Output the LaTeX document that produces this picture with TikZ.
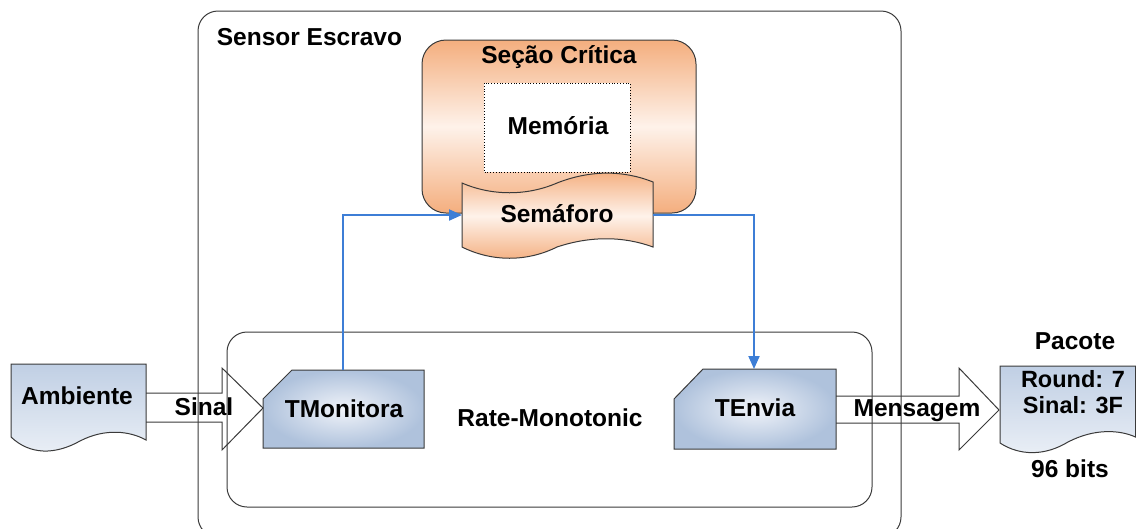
\documentclass[tikz,border=0pt]{standalone}
\usepackage{fontspec}
\setmainfont{Liberation Sans}
\usetikzlibrary{arrows.meta}
\definecolor{frame}{HTML}{3A3A3A}
\definecolor{orangeD}{HTML}{F4AE7E}
\definecolor{orangeL}{HTML}{FEF2EA}
\definecolor{blueD}{HTML}{AFC2DC}
\definecolor{blueL}{HTML}{F0F3F9}
\definecolor{docD}{HTML}{C0CFE4}
\definecolor{docL}{HTML}{EAEFF6}
\definecolor{link}{HTML}{3D7ED6}
\begin{document}
\begin{tikzpicture}[x=1pt,y=-1pt,
  lbl/.style={font=\fontsize{24.5}{20}\selectfont\bfseries, inner sep=0pt, anchor=base},
  frameline/.style={draw=frame, line width=1pt},
  orangefill/.style={top color=orangeD, bottom color=orangeD, middle color=orangeL},
  taskfill/.style={inner color=blueL, outer color=blueD},
  docfill/.style={top color=docD, bottom color=docL},
  linkline/.style={draw=link, line width=2pt, -{Triangle[length=13pt,width=11pt]}},
]
\useasboundingbox (0,0) rectangle (1136,528);

% outer box and rate-monotonic box
\draw[frameline, rounded corners=20pt] (198,11) rectangle (901,537);
\draw[frameline, rounded corners=20pt] (227,332) rectangle (872,507);

% critical section
\path[frameline, orangefill, rounded corners=24pt] (422,40) rectangle (696,213);
\draw[draw=black, line width=0.8pt, dotted, fill=white] (484,83) rectangle (630,172);

% semaphore (punched tape)
\path[frameline, orangefill] (462,183) .. controls (492,196) and (527,196) .. (557,183)
  .. controls (590,170) and (623,170) .. (653,182) -- (653,247)
  .. controls (623,236) and (590,236) .. (557,247)
  .. controls (527,262) and (492,262) .. (462,247) -- cycle;

% Ambiente document
\path[frameline, docfill] (11,364) -- (146,364) -- (146,440)
  .. controls (130,431) and (105,428) .. (80,441)
  .. controls (55,455) and (30,455) .. (11,437) -- cycle;

% Pacote document
\path[frameline, docfill] (1000,366) -- (1135.5,366) -- (1135.5,437)
  .. controls (1120,430) and (1095,428) .. (1068,442)
  .. controls (1045,456) and (1020,456) .. (1000,443) -- cycle;

% tasks
\path[frameline, taskfill] (263,399) -- (292,370) -- (424,370) -- (424,448) -- (263,448) -- cycle;
\path[frameline, taskfill] (674,399) -- (703,369) -- (836,369) -- (836,449) -- (674,449) -- cycle;

% block arrows
\draw[frameline] (146,393) -- (222,393) -- (222,368) -- (263,408) -- (222,450) -- (222,422) -- (146,422);
\draw[frameline] (836,396) -- (959,396) -- (959,368) -- (999,410) -- (959,450) -- (959,423) -- (836,423);

% named anchor points
\coordinate (tmN) at (343,370);
\coordinate (teN) at (754,369);
\coordinate (semW) at (462,215);
\coordinate (semE) at (653,215);

\draw[linkline] (tmN) |- (semW);
\draw[linkline] (semE) -| (teN);

% labels
\node[lbl] (sensor) at (309.5,45) {Sensor Escravo};
\node[lbl] (secao) at (559,63) {Seção Crítica};
\node[lbl] (memoria) at (558,134) {Memória};
\node[lbl] (semaforo) at (557,222) {Semáforo};
\node[lbl] (ambiente) at (77,404) {Ambiente};
\node[lbl] (sinal) at (204,415) {Sinal};
\node[lbl] (tmonitora) at (344,417) {TMonitora};
\node[lbl] (rate) at (550,426) {Rate-Monotonic};
\node[lbl] (tenvia) at (755,416) {TEnvia};
\node[lbl] (mensagem) at (917,416) {Mensagem};
\node[lbl] (pacote) at (1075,349) {Pacote};
\node[lbl, font=\fontsize{23.5}{20}\selectfont\bfseries] (round) at (1073,387) {Round: 7};
\node[lbl, font=\fontsize{23.5}{20}\selectfont\bfseries] (sinalhex) at (1073,413) {Sinal: 3F};
\node[lbl] (bits) at (1070,477) {96 bits};
\end{tikzpicture}
\end{document}
